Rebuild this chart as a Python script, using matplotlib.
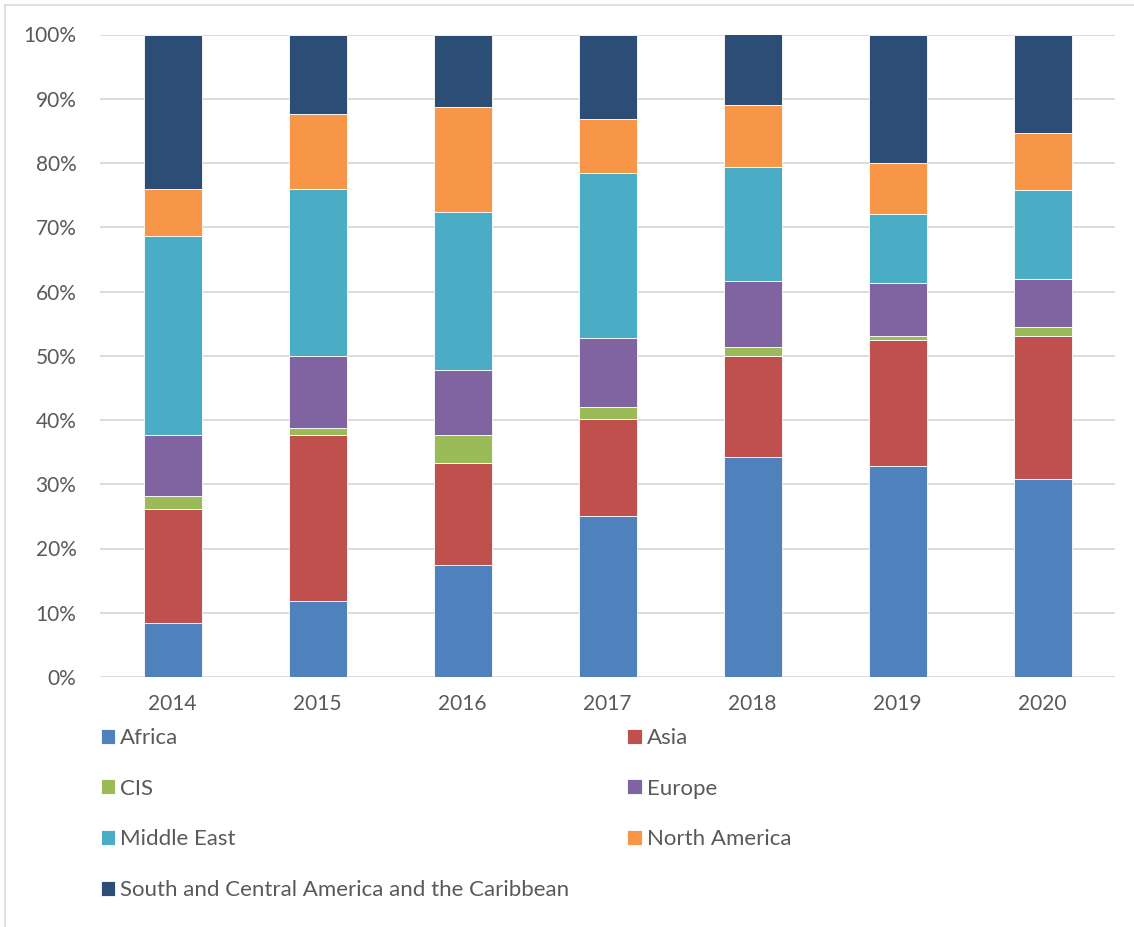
import matplotlib
matplotlib.use("Agg")
import matplotlib.pyplot as plt
from matplotlib.patches import Rectangle
from matplotlib.ticker import PercentFormatter
import numpy as np

# --- data (share of total, %) ---
years = ["2014", "2015", "2016", "2017", "2018", "2019", "2020"]
regions = ["Africa", "Asia", "CIS", "Europe", "Middle East", "North America",
           "South and Central America and the Caribbean"]

africa = [8.4, 11.8, 17.4, 25.0, 34.2, 32.8, 30.8]
asia = [17.7, 25.8, 15.9, 15.2, 15.8, 19.6, 22.3]
cis = [2.0, 1.1, 4.4, 1.8, 1.4, 0.6, 1.3]
europe = [9.5, 11.3, 10.1, 10.8, 10.2, 8.3, 7.5]
middle_east = [31.0, 26.0, 24.5, 25.7, 17.7, 10.8, 13.9]
north_america = [7.3, 11.7, 16.4, 8.4, 9.8, 7.9, 8.8]
south_central = [24.1, 12.3, 11.3, 13.1, 10.9, 20.0, 15.4]

colors = ["#4F81BD", "#C0504D", "#9BBB59", "#8064A2", "#4BACC6", "#F79646", "#2C4D75"]

plt.rcParams['font.family'] = ['Lato', 'DejaVu Sans']
text_color = "#595959"
grid_color = "#D9D9D9"

fig = plt.figure(figsize=(11.34, 9.27), dpi=100)
fig.set_facecolor('white')
W, H = 1134, 927

# chart border like in the original export
fig.patches.append(Rectangle((5 / W, -0.01), 1.02, (H - 5) / H + 0.01,
                             transform=fig.transFigure, fill=False,
                             edgecolor=grid_color, linewidth=1.2))

ax = fig.add_axes([100 / W, 250 / H, 1015 / W, 642.5 / H])

series = [africa, asia, cis, europe, middle_east, north_america, south_central]
x = np.arange(len(years))
bottom = np.zeros(len(years))
bars = []
for name, vals, c in zip(regions, series, colors):
    vals = np.array(vals, dtype=float)
    b = ax.bar(x, vals, 0.4, bottom=bottom, color=c, edgecolor='white',
               linewidth=0.6, label=name, zorder=3)
    bars.append(b)
    bottom += vals

ax.set_xlim(-0.5, len(years) - 0.5)
ax.set_ylim(0, 100)
ax.set_yticks(np.arange(0, 101, 10))
ax.yaxis.set_major_formatter(PercentFormatter(decimals=0))
ax.set_xticks(x)
ax.set_xticklabels(years)
ax.grid(axis='y', color=grid_color, linewidth=1.3, zorder=0)
ax.tick_params(axis='both', length=0, labelsize=15, labelcolor=text_color)
ax.tick_params(axis='y', pad=17)
ax.tick_params(axis='x', pad=12)
for s in ax.spines.values():
    s.set_visible(False)

# legend: two columns, filled row-wise like the reference
order = [0, 2, 4, 6, 1, 3, 5]
leg = fig.legend([bars[i] for i in order], [regions[i] for i in order],
                 loc='upper left', bbox_to_anchor=(101 / W, 1 - 728 / H),
                 ncol=2, frameon=False, fontsize=16, labelcolor=text_color,
                 handlelength=0.65, handleheight=0.65, handletextpad=0.22,
                 labelspacing=1.38, columnspacing=2.6, borderpad=0, borderaxespad=0)

fig.savefig("out.png", dpi=100, facecolor='white')
